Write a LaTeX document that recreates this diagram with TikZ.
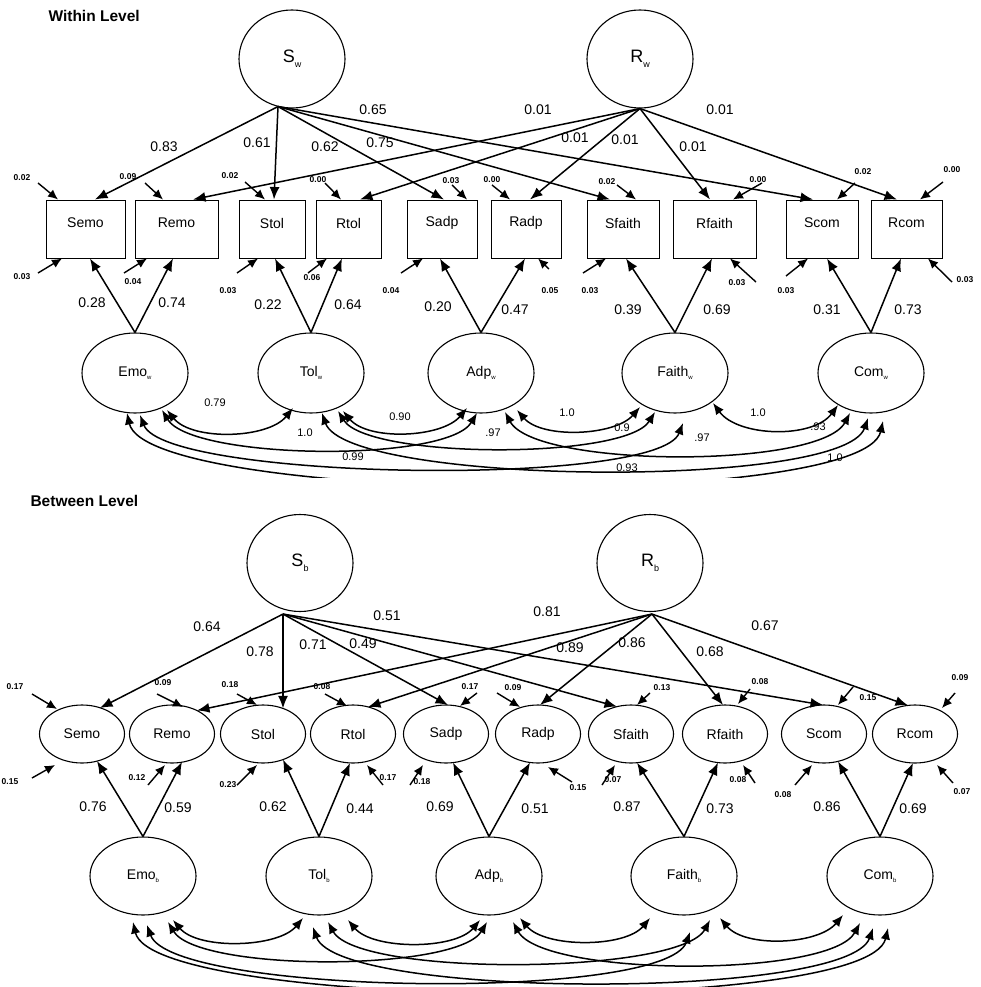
\documentclass[tikz,border=0pt]{standalone}
\usepackage{fontspec}
\setmainfont{Liberation Sans}
\usetikzlibrary{shapes.geometric,arrows.meta,calc}
\newcommand{\myfs}[1]{\fontsize{#1}{#1}\selectfont}
\newcounter{lbc}
\newcommand{\lbl}[3]{\stepcounter{lbc}\node[#1] (L\arabic{lbc}) at (#2) {#3};}
\newcommand{\resid}[4]{\draw[resarrow] (#1) -- (#2); \lbl{rl}{#3}{#4}}
\newcommand{\bigname}[2]{{\myfs{18}#1}\raisebox{-5pt}{\myfs{9}#2}}
\newcommand{\latname}[2]{#1\raisebox{-3.5pt}{\myfs{6}#2}}
\begin{document}
\begin{tikzpicture}[x=1pt,y=-1pt,
  obsbox/.style={draw,line width=1pt,rectangle,minimum width=#1,minimum height=58pt,inner sep=0pt},
  obsell/.style={draw,line width=1.1pt,ellipse,minimum width=85pt,minimum height=58pt,inner sep=0pt,font=\myfs{14}},
  latell/.style={draw,line width=1.1pt,ellipse,minimum width=106pt,minimum height=#1,inner sep=0pt,font=\myfs{14}},
  bigcirc/.style={draw,line width=1.1pt,ellipse,minimum width=106pt,minimum height=98pt,inner sep=0pt},
  loadarrow/.style={line width=1.5pt,-{Latex[length=12.5pt,width=10pt]}},
  covarrow/.style={line width=1.5pt,{Latex[length=11.5pt,width=9.5pt]}-{Latex[length=11.5pt,width=9.5pt]}},
  resarrow/.style={line width=1.4pt,-{Latex[length=10pt,width=9pt]}},
  pl/.style={font=\myfs{14}},
  cl/.style={font=\myfs{11}},
  rl/.style={font=\bfseries\myfs{8.5}},
  ttl/.style={font=\bfseries\myfs{15.5},anchor=west}
]
\useasboundingbox (0,0) rectangle (980,987);

%================ WITHIN LEVEL ================
\node[ttl] (tw) at (45,16) {Within Level};
\node[bigcirc] (Sw) at (292,59) {\bigname{S}{w}};
\node[bigcirc] (Rw) at (640,59) {\bigname{R}{w}};

\node[obsbox=79pt,label={[yshift=6pt,font=\myfs{14}]center:Semo}] (wSemo) at (85.5,229) {};
\node[obsbox=83pt,label={[yshift=6pt,font=\myfs{14}]center:Remo}] (wRemo) at (176.5,229) {};
\node[obsbox=66pt,label={[yshift=6pt,font=\myfs{14}]center:Stol}] (wStol) at (272,229) {};
\node[obsbox=65pt,label={[yshift=6pt,font=\myfs{14}]center:Rtol}] (wRtol) at (348.5,229) {};
\node[obsbox=70pt,label={[yshift=6pt,font=\myfs{14}]center:Sadp}] (wSadp) at (442,229) {};
\node[obsbox=70pt,label={[yshift=6pt,font=\myfs{14}]center:Radp}] (wRadp) at (526,229) {};
\node[obsbox=72pt,label={[yshift=6pt,font=\myfs{14}]center:Sfaith}] (wSfaith) at (623,229) {};
\node[obsbox=83pt,label={[yshift=6pt,font=\myfs{14}]center:Rfaith}] (wRfaith) at (714.5,229) {};
\node[obsbox=72pt,label={[yshift=6pt,font=\myfs{14}]center:Scom}] (wScom) at (822,229) {};
\node[obsbox=71pt,label={[yshift=6pt,font=\myfs{14}]center:Rcom}] (wRcom) at (906.5,229) {};

\node[latell=80pt] (wEmo) at (135,373) {\latname{Emo}{w}};
\node[latell=80pt] (wTol) at (311,373) {\latname{Tol}{w}};
\node[latell=80pt] (wAdp) at (481,373) {\latname{Adp}{w}};
\node[latell=80pt] (wFaith) at (675,373) {\latname{Faith}{w}};
\node[latell=80pt] (wCom) at (871,373) {\latname{Com}{w}};

\coordinate (Swo) at ($(Sw.south)+(-14,-2)$);
\coordinate (Rwo) at (Rw.south);
\draw[loadarrow] (Swo) -- ($(wSemo.north)+(9.5,0)$);
\draw[loadarrow] (Swo) -- ($(wStol.north)+(2,0)$);
\draw[loadarrow] (Swo) -- ($(wSadp.north)+(2,0)$);
\draw[loadarrow] (Swo) -- ($(wSfaith.north)+(-13,0)$);
\draw[loadarrow] (Swo) -- ($(wScom.north)+(-9,0)$);
\draw[loadarrow] (Rwo) -- ($(wRemo.north)+(16.5,0)$);
\draw[loadarrow] (Rwo) -- ($(wRtol.north)+(11.5,0)$);
\draw[loadarrow] (Rwo) -- ($(wRadp.north)+(4,0)$);
\draw[loadarrow] (Rwo) -- ($(wRfaith.north)+(-4.5,0)$);
\draw[loadarrow] (Rwo) -- ($(wRcom.north)+(-9.5,0)$);
\lbl{pl}{164,147}{0.83}
\lbl{pl}{257,143}{0.61}
\lbl{pl}{325,147}{0.62}
\lbl{pl}{380,143}{0.75}
\lbl{pl}{373,110}{0.65}
\lbl{pl}{538,110}{0.01}
\lbl{pl}{575,138}{0.01}
\lbl{pl}{625,140}{0.01}
\lbl{pl}{693,147}{0.01}
\lbl{pl}{720,110}{0.01}

\draw[loadarrow] (wEmo.north) -- ($(wSemo.south)+(4.5,0)$);
\draw[loadarrow] (wEmo.north) -- ($(wRemo.south)+(-3.5,0)$);
\draw[loadarrow] (wTol.north) -- ($(wStol.south)+(3,0)$);
\draw[loadarrow] (wTol.north) -- ($(wRtol.south)+(-6.5,0)$);
\draw[loadarrow] (wAdp.north) -- ($(wSadp.south)+(-2,0)$);
\draw[loadarrow] (wAdp.north) -- ($(wRadp.south)+(-1,0)$);
\draw[loadarrow] (wFaith.north) -- ($(wSfaith.south)+(3,0)$);
\draw[loadarrow] (wFaith.north) -- ($(wRfaith.south)+(-2.5,0)$);
\draw[loadarrow] (wCom.north) -- ($(wScom.south)+(5,0)$);
\draw[loadarrow] (wCom.north) -- ($(wRcom.south)+(-5.5,0)$);
\lbl{pl}{92,303}{0.28}
\lbl{pl}{172,303}{0.74}
\lbl{pl}{268,305}{0.22}
\lbl{pl}{348,305}{0.64}
\lbl{pl}{438,307}{0.20}
\lbl{pl}{515,310}{0.47}
\lbl{pl}{628,310}{0.39}
\lbl{pl}{717,310}{0.69}
\lbl{pl}{827,310}{0.31}
\lbl{pl}{908,310}{0.73}

% residuals within
\resid{38,183}{$(wSemo.north)+(-27.5,0)$}{22,178}{0.02}
\resid{145,183}{$(wRemo.north)+(-13.5,0)$}{128,177}{0.09}
\resid{245,182}{$(wStol.north)+(-7,0)$}{230,176}{0.02}
\resid{325,183}{$(wRtol.north)+(-7.5,0)$}{318,180}{0.00}
\resid{452,185}{$(wSadp.north)+(25,0)$}{451,181}{0.03}
\resid{492,185}{$(wRadp.north)+(-16,0)$}{492,180}{0.00}
\resid{617,185}{$(wSfaith.north)+(13,0)$}{607,182}{0.02}
\resid{762,183}{$(wRfaith.north)+(18.5,0)$}{758,180}{0.00}
\resid{855,183}{$(wScom.north)+(15,0)$}{863,172}{0.02}
\resid{943,182}{$(wRcom.north)+(13.5,0)$}{952,170}{0.00}
\resid{38,273}{$(wSemo.south)+(-23.5,0)$}{22,277}{0.03}
\resid{124,273}{$(wRemo.south)+(-29.5,0)$}{133,282}{0.04}
\resid{237,273}{$(wStol.south)+(-14,0)$}{228,291}{0.03}
\resid{308,273}{$(wRtol.south)+(-21.5,0)$}{312,278}{0.06}
\resid{401,273}{$(wSadp.south)+(-19,0)$}{391,291}{0.04}
\resid{549,269}{$(wRadp.south)+(12,0)$}{550,291}{0.05}
\resid{583,273}{$(wSfaith.south)+(-17,0)$}{590,291}{0.03}
\resid{756,282}{$(wRfaith.south)+(15.5,0)$}{737,283}{0.03}
\resid{786,276}{$(wScom.south)+(-14,0)$}{786,291}{0.03}
\resid{952,282}{$(wRcom.south)+(21.5,0)$}{965,280}{0.03}

% covariances within
\begin{scope}
\clip (0,0) rectangle (980,477);
\draw[covarrow] ($(wEmo)+(32,37)$) .. controls +(25,31) and +(-25,31) .. ($(wTol)+(-18,35)$);
\draw[covarrow] ($(wTol)+(32,38)$) .. controls +(25,30) and +(-25,30) .. ($(wAdp)+(-14,35)$);
\draw[covarrow] ($(wAdp)+(36,37)$) .. controls +(25,29) and +(-25,29) .. ($(wFaith)+(-35,34)$);
\draw[covarrow] ($(wFaith)+(38,30)$) .. controls +(25,34) and +(-25,34) .. ($(wCom)+(-33,32)$);
\draw[covarrow] ($(wEmo)+(27,37)$) .. controls +(30,50) and +(-30,50) .. ($(wAdp)+(-4,40)$);
\draw[covarrow] ($(wTol)+(27,38)$) .. controls +(30,48) and +(-30,48) .. ($(wFaith)+(-20,39)$);
\draw[covarrow] ($(wAdp)+(24,39)$) .. controls +(30,56) and +(-30,56) .. ($(wCom)+(-21,40)$);
\draw[covarrow] ($(wEmo)+(5,42)$) .. controls +(25,65) and +(-25,65) .. ($(wFaith)+(8,50)$);
\draw[covarrow] ($(wTol)+(11,40)$) .. controls +(25,72) and +(-25,72) .. ($(wCom)+(-3,45)$);
\draw[covarrow] ($(wEmo)+(-8,40)$) .. controls +(20,90) and +(-20,90) .. ($(wCom)+(12,48)$);
\end{scope}
\lbl{cl}{215,403}{0.79}
\lbl{cl}{400,417}{0.90}
\lbl{cl}{567,413}{1.0}
\lbl{cl}{758,413}{1.0}
\lbl{cl}{305,433}{1.0}
\lbl{cl}{493,433}{.97}
\lbl{cl}{622,428}{0.9}
\lbl{cl}{702,438}{.97}
\lbl{cl}{818,427}{.93}
\lbl{cl}{353,457}{0.99}
\lbl{cl}{627,468}{0.93}
\lbl{cl}{835,458}{1.0}

%================ BETWEEN LEVEL ================
\node[ttl] (tb) at (27,501) {Between Level};
\node[bigcirc,minimum height=97pt] (Sb) at (300,563) {\bigname{S}{b}};
\node[bigcirc,minimum height=97pt] (Rb) at (650,563) {\bigname{R}{b}};

\node[obsell] (bSemo) at (82,734) {Semo};
\node[obsell] (bRemo) at (172,734) {Remo};
\node[obsell] (bStol) at (263,734) {Stol};
\node[obsell] (bRtol) at (353,734) {Rtol};
\node[obsell] (bSadp) at (446,734) {Sadp};
\node[obsell] (bRadp) at (538,734) {Radp};
\node[obsell] (bSfaith) at (631,734) {Sfaith};
\node[obsell] (bRfaith) at (725,734) {Rfaith};
\node[obsell] (bScom) at (824,734) {Scom};
\node[obsell] (bRcom) at (915,734) {Rcom};

\node[latell=78pt] (bEmo) at (143,876) {\latname{Emo}{b}};
\node[latell=78pt] (bTol) at (319,876) {\latname{Tol}{b}};
\node[latell=78pt] (bAdp) at (489,876) {\latname{Adp}{b}};
\node[latell=78pt] (bFaith) at (684,876) {\latname{Faith}{b}};
\node[latell=78pt] (bCom) at (880,876) {\latname{Com}{b}};

\coordinate (Sbo) at ($(Sb.south)+(-17,2)$);
\coordinate (Rbo) at ($(Rb.south)+(2,2)$);
\draw[loadarrow] (Sbo) -- ($(bSemo)+(18,-26)$);
\draw[loadarrow] (Sbo) -- ($(bStol)+(20,-25.6)$);
\draw[loadarrow] (Sbo) -- ($(bSadp)+(2,-29)$);
\draw[loadarrow] (Sbo) -- ($(bSfaith)+(-14,-27.4)$);
\draw[loadarrow] (Sbo) -- ($(bScom)+(-1,-29)$);
\draw[loadarrow] (Rbo) -- ($(bRemo)+(25,-23.5)$);
\draw[loadarrow] (Rbo) -- ($(bRtol)+(15,-27)$);
\draw[loadarrow] (Rbo) -- ($(bRadp)+(2,-29)$);
\draw[loadarrow] (Rbo) -- ($(bRfaith)+(-2,-29)$);
\draw[loadarrow] (Rbo) -- ($(bRcom)+(-7,-28.6)$);
\lbl{pl}{207,627}{0.64}
\lbl{pl}{260,652}{0.78}
\lbl{pl}{313,645}{0.71}
\lbl{pl}{363,644}{0.49}
\lbl{pl}{387,616}{0.51}
\lbl{pl}{547,612}{0.81}
\lbl{pl}{570,648}{0.89}
\lbl{pl}{632,643}{0.86}
\lbl{pl}{710,652}{0.68}
\lbl{pl}{765,626}{0.67}

\draw[loadarrow] (bEmo.north) -- ($(bSemo)+(15,27)$);
\draw[loadarrow] (bEmo.north) -- ($(bRemo)+(10,28)$);
\draw[loadarrow] (bTol.north) -- ($(bStol)+(20,25.6)$);
\draw[loadarrow] (bTol.north) -- ($(bRtol)+(-3,29)$);
\draw[loadarrow] (bAdp.north) -- ($(bSadp)+(7,28.6)$);
\draw[loadarrow] (bAdp.north) -- ($(bRadp)+(-8,28.5)$);
\draw[loadarrow] (bFaith.north) -- ($(bSfaith)+(6,28.7)$);
\draw[loadarrow] (bFaith.north) -- ($(bRfaith)+(-7,28.6)$);
\draw[loadarrow] (bCom.north) -- ($(bScom)+(14,27.4)$);
\draw[loadarrow] (bCom.north) -- ($(bRcom)+(-2,29)$);
\lbl{pl}{93,807}{0.76}
\lbl{pl}{178,808}{0.59}
\lbl{pl}{273,807}{0.62}
\lbl{pl}{360,809}{0.44}
\lbl{pl}{440,807}{0.69}
\lbl{pl}{535,809}{0.51}
\lbl{pl}{627,807}{0.87}
\lbl{pl}{720,809}{0.73}
\lbl{pl}{827,807}{0.86}
\lbl{pl}{913,809}{0.69}

% residuals between
\resid{32,694}{$(bSemo)+(-25,-25)$}{15,687}{0.17}
\resid{157,694}{$(bRemo)+(11,-27)$}{163,683}{0.09}
\resid{237,694}{$(bStol)+(-6,-29)$}{230,685}{0.18}
\resid{325,694}{$(bRtol)+(-6,-28)$}{322,687}{0.08}
\resid{477,693}{$(bSadp)+(14,-28)$}{470,687}{0.17}
\resid{497,693}{$(bRadp)+(-18,-27)$}{513,688}{0.09}
\resid{650,693}{$(bSfaith)+(6,-29)$}{662,688}{0.13}
\resid{750,689}{$(bRfaith)+(13,-30)$}{760,682}{0.08}
\resid{853,687}{$(bScom)+(14,-29)$}{868,698}{0.15}
\resid{955,693}{$(bRcom)+(27,-26)$}{960,678}{0.09}
\resid{32,778}{$(bSemo)+(-27,31)$}{10,782}{0.15}
\resid{148,785}{$(bRemo)+(-7,31)$}{137,778}{0.12}
\resid{237,785}{$(bStol)+(-6,31)$}{228,785}{0.23}
\resid{383,785}{$(bRtol)+(14,31)$}{388,778}{0.17}
\resid{410,785}{$(bSadp)+(-23,31)$}{422,782}{0.18}
\resid{572,782}{$(bRadp)+(10,33)$}{578,788}{0.15}
\resid{602,785}{$(bSfaith)+(-16,31)$}{613,780}{0.07}
\resid{755,783}{$(bRfaith)+(18,31)$}{738,780}{0.08}
\resid{795,785}{$(bScom)+(-12,31)$}{783,795}{0.08}
\resid{953,783}{$(bRcom)+(22,31)$}{962,792}{0.07}

% covariances between
\begin{scope}
\clip (0,480) rectangle (980,987);
\draw[covarrow] ($(bEmo)+(30,44)$) .. controls +(25,30) and +(-25,30) .. ($(bTol)+(-16,42)$);
\draw[covarrow] ($(bTol)+(29,44)$) .. controls +(25,30) and +(-25,30) .. ($(bAdp)+(-9,44)$);
\draw[covarrow] ($(bAdp)+(31,42)$) .. controls +(25,30) and +(-25,30) .. ($(bFaith)+(-34,42)$);
\draw[covarrow] ($(bFaith)+(36,42)$) .. controls +(25,30) and +(-25,30) .. ($(bCom)+(-37,39)$);
\draw[covarrow] ($(bEmo)+(25,46)$) .. controls +(30,50) and +(-30,50) .. ($(bAdp)+(-2,46)$);
\draw[covarrow] ($(bTol)+(9,46)$) .. controls +(30,55) and +(-30,55) .. ($(bFaith)+(26,44)$);
\draw[covarrow] ($(bAdp)+(24,46)$) .. controls +(30,55) and +(-30,55) .. ($(bCom)+(-20,47)$);
\draw[covarrow] ($(bEmo)+(4,49)$) .. controls +(25,70) and +(-25,70) .. ($(bFaith)+(6,56)$);
\draw[covarrow] ($(bTol)+(-6,51)$) .. controls +(25,72) and +(-25,72) .. ($(bCom)+(-7,52)$);
\draw[covarrow] ($(bEmo)+(-10,46)$) .. controls +(20,88) and +(-20,88) .. ($(bCom)+(8,52)$);
\end{scope}
\end{tikzpicture}
\end{document}
